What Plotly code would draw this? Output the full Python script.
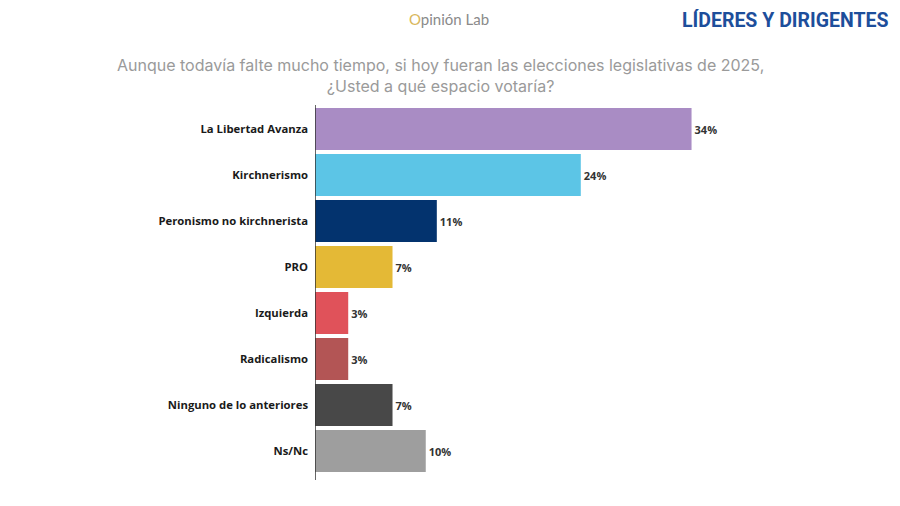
import plotly.graph_objects as go

categories = ["La Libertad Avanza", "Kirchnerismo", "Peronismo no kirchnerista", "PRO",
              "Izquierda", "Radicalismo", "Ninguno de lo anteriores", "Ns/Nc"]
values = [34, 24, 11, 7, 3, 3, 7, 10]
colors = ["#A98CC4", "#5CC5E6", "#03336E", "#E4B936", "#E0525A", "#B35555", "#484848", "#9E9E9E"]
labels = [f"{v}%" for v in values]

W, H = 900, 506
OFF = 8  # page body margin
L, R, T, B = 307, 150, 98, 40
PW, PH = W - L - R, H - T - B


def px(x):
    return (x - OFF - L) / PW


def py(y):
    return (H - B - (y - OFF)) / PH


fig = go.Figure(go.Bar(
    x=values, y=categories, orientation="h",
    marker=dict(color=colors, line=dict(width=0)),
    text=labels, textposition="outside", cliponaxis=False,
    textfont=dict(family="Open Sans", size=11, color="#333333", weight="bold"),
    hoverinfo="skip",
))

fig.update_layout(
    width=W, height=H,
    margin=dict(l=L, r=R, t=T, b=B),
    paper_bgcolor="white", plot_bgcolor="white",
    bargap=0.09, showlegend=False,
    xaxis=dict(range=[0, 40], visible=False, fixedrange=True),
    yaxis=dict(autorange="reversed", showline=False, ticks="", showgrid=False,
               ticklabelstandoff=6,
               tickfont=dict(family="Open Sans", size=11.3, color="#1A1A1A", weight="bold")),
    shapes=[dict(type="line", xref="x", yref="paper", x0=0, x1=0, y0=py(480), y1=py(105),
                 line=dict(color="#333333", width=1.5))],
    annotations=[
        dict(text="Aunque todavía falte mucho tiempo, si hoy fueran las elecciones legislativas de 2025,<br>¿Usted a qué espacio votaría?",
             xref="paper", yref="paper", x=px(440), y=py(76), xanchor="center", yanchor="middle",
             showarrow=False, align="center", font=dict(family="Inter", size=16, color="#9A9A9A")),
        dict(text="<span style='color:#D9B85C'>O</span>pinión Lab", x=px(449), y=py(19),
             xref="paper", yref="paper", xanchor="center", yanchor="middle",
             showarrow=False, font=dict(family="Lato", size=15, color="#8A8A8A")),
        dict(text="<b>LÍDERES Y DIRIGENTES</b>", x=px(785), y=py(20),
             xref="paper", yref="paper", xanchor="center", yanchor="middle",
             showarrow=False, font=dict(family="Roboto", size=19.5, color="#1D4E9B")),
    ],
)

fig.write_html("out.html")
